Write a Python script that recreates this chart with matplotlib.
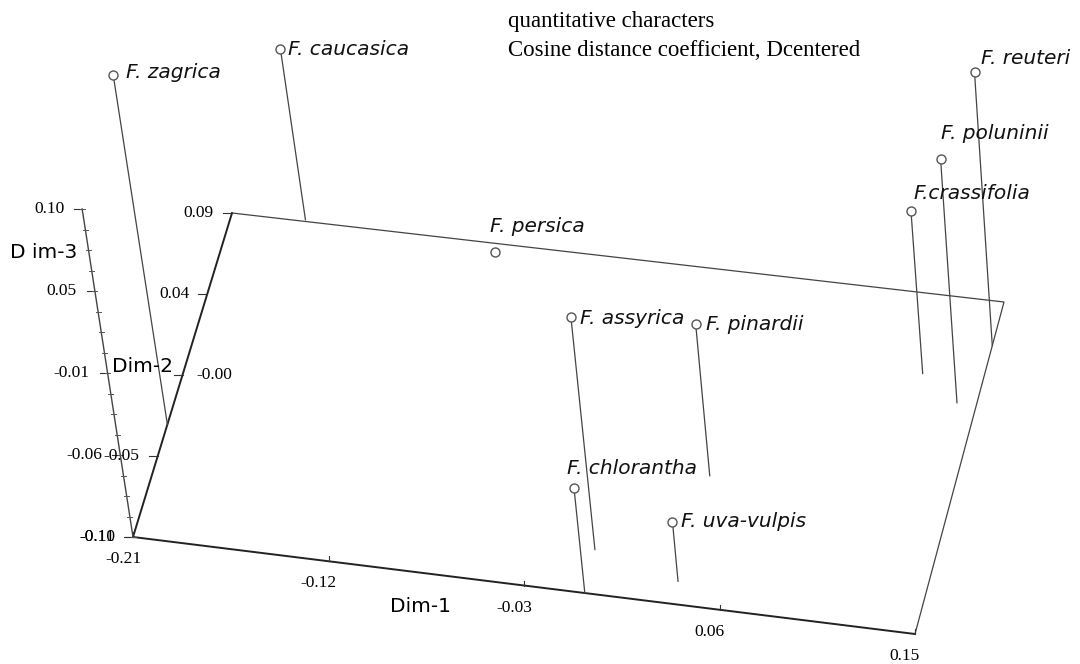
import numpy as np
import matplotlib
matplotlib.use("Agg")
from matplotlib import pyplot as plt

# species scores on the three dimensions
species = ["F. caucasica", "F. zagrica", "F. persica", "F. assyrica", "F. pinardii",
           "F. chlorantha", "F. uva-vulpis", "F.crassifolia", "F. poluninii", "F. reuteri"]
dim1 = [-0.176, -0.210, -0.086, -0.003, 0.039, -0.002, 0.038, 0.122, 0.141, 0.150]
dim2 = [0.091, -0.034, 0.085, -0.075, -0.026, -0.100, -0.087, 0.045, 0.031, 0.065]
dim3 = [-0.001, 0.114, -0.110, 0.039, -0.013, -0.043, -0.072, -0.006, 0.046, 0.065]

dim1_range = (-0.21, 0.15)
dim2_range = (-0.10, 0.09)
dim3_range = (-0.11, 0.10)
dim1_ticklabels = ["-0.21", "-0.12", "-0.03", "0.06", "0.15"]
dim2_ticklabels = ["-0.10", "-0.05", "-0.00", "0.04", "0.09"]
dim3_ticklabels = ["-0.11", "-0.06", "-0.01", "0.05", "0.10"]

# label placement relative to the marker (pixels)
label_dx = [8, 13, -5, 9, 10, -7, 9, 2, 0, 6]
label_dy = [0, -2, -26, 2, 0, -20, 0, -18, -26, -14]

# view: base plane corners on the page and the height of the Dim-3 axis
corners = {(0, 0): (133, 537), (1, 0): (915, 634), (0, 1): (232, 213), (1, 1): (1004, 302)}
height = 328
lean = (0.155, 0.065)


def frac(val, rng):
    return (np.asarray(val, dtype=float) - rng[0]) / (rng[1] - rng[0])


def project(d1, d2, d3):
    u = frac(d1, dim1_range)
    v = frac(d2, dim2_range)
    w = frac(d3, dim3_range)
    x = ((1 - u) * (1 - v) * corners[0, 0][0] + u * (1 - v) * corners[1, 0][0]
         + (1 - u) * v * corners[0, 1][0] + u * v * corners[1, 1][0])
    y = ((1 - u) * (1 - v) * corners[0, 0][1] + u * (1 - v) * corners[1, 0][1]
         + (1 - u) * v * corners[0, 1][1] + u * v * corners[1, 1][1])
    h = w * height
    k = lean[0] + (lean[1] - lean[0]) * u
    return x - k * h, y - h


fig = plt.figure(figsize=(10.8, 6.64), dpi=100)
ax = fig.add_axes([0, 0, 1, 1])
ax.set_xlim(0, 1080)
ax.set_ylim(664, 0)
ax.axis("off")

lo1, hi1 = dim1_range
lo2, hi2 = dim2_range
lo3, hi3 = dim3_range

# base plane
bx, by = project([lo1, hi1], [lo2, lo2], [lo3, lo3])
ax.plot(bx, by, color="#222222", lw=1.4)
bx, by = project([lo1, lo1], [lo2, hi2], [lo3, lo3])
ax.plot(bx, by, color="#222222", lw=1.4)
bx, by = project([lo1, hi1, hi1], [hi2, hi2, lo2], [lo3, lo3, lo3])
ax.plot(bx, by, color="#444444", lw=0.9)

# vertical Dim-3 axis
zx, zy = project([lo1, lo1], [lo2, lo2], [lo3, hi3])
ax.plot(zx, zy, color="#444444", lw=1.0)

serif = "Liberation Serif"
sans = "DejaVu Sans"

t1 = np.linspace(lo1, hi1, 5)
tx, ty = project(t1, np.full(5, lo2), np.full(5, lo3))
for x, y, lab in zip(tx, ty, dim1_ticklabels):
    ax.plot([x, x], [y, y - 5], color="#333333", lw=0.8)
    ax.text(x - 10, y + 22, lab, fontsize=12.5, family=serif, ha="center", va="center")

t2 = np.linspace(lo2, hi2, 5)
tx, ty = project(np.full(5, lo1), t2, np.full(5, lo3))
for x, y, lab in zip(tx, ty, dim2_ticklabels):
    ax.plot([x, x - 9], [y, y], color="#333333", lw=0.8)
    if lab == "-0.00":
        ax.text(x + 14, y, lab, fontsize=12.5, family=serif, ha="left", va="center")
    else:
        ax.text(x - 18, y, lab, fontsize=12.5, family=serif, ha="right", va="center")

t3 = np.linspace(lo3, hi3, 5)
tx, ty = project(np.full(5, lo1), np.full(5, lo2), t3)
for x, y, lab in zip(tx, ty, dim3_ticklabels):
    ax.plot([x, x - 8], [y, y], color="#333333", lw=0.8)
    ax.text(x - 18, y, lab, fontsize=12.5, family=serif, ha="right", va="center")
m3 = np.linspace(lo3, hi3, 17)
mx, my = project(np.full(17, lo1), np.full(17, lo2), m3)
for x, y in zip(mx, my):
    ax.plot([x - 2.5, x + 2.5], [y, y], color="#555555", lw=0.7)

ax.text(44, 252, "D im-3", fontsize=14.5, family=sans, ha="center", va="center")
ax.text(142, 367, "Dim-2", fontsize=14.5, family=sans, ha="center", va="center")
ax.text(420, 607, "Dim-1", fontsize=14.5, family=sans, ha="center", va="center")

# drop lines, markers and names
px, py = project(dim1, dim2, dim3)
fx, fy = project(dim1, dim2, np.full(len(dim3), lo3))
for i in range(len(species)):
    ax.plot([px[i], fx[i]], [py[i], fy[i]], color="#444444", lw=0.9, zorder=2)
ax.plot(px, py, "o", ms=6.5, mfc="white", mec="#555555", mew=1.0, zorder=3)
for i, name in enumerate(species):
    ax.text(px[i] + label_dx[i], py[i] + label_dy[i], name, fontsize=14.5,
            family=sans, style="italic", ha="left", va="center", color="#111111")

ax.text(508, 22, "quantitative characters", fontsize=16.5, family=serif,
        ha="left", va="center")
ax.text(508, 50, "Cosine distance coefficient, Dcentered", fontsize=16.5,
        family=serif, ha="left", va="center")

fig.savefig("out.png", dpi=100)
